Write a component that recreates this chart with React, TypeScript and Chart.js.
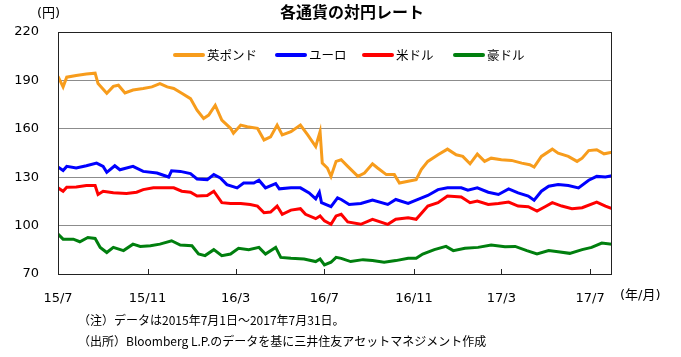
import React, { useEffect, useRef } from "react";
import { Chart, registerables } from "chart.js";

Chart.register(...registerables);

const chartTitle = "各通貨の対円レート";
const yUnit = "(円)";
const xUnit = "(年/月)";
const notes = [
  "（注）データは2015年7月1日～2017年7月31日。",
  "（出所）Bloomberg L.P.のデータを基に三井住友アセットマネジメント作成",
];

const seriesNames = ["英ポンド", "ユーロ", "米ドル", "豪ドル"];
const seriesColors = ["#f79c1c", "#0000ff", "#ff0000", "#007f0e"];

// x axis: days since 2015-07-01
const xTickDays = [0, 123, 244, 366, 489, 609, 731];
const xTickLabels = ["15/7", "15/11", "16/3", "16/7", "16/11", "17/3", "17/7"];
const xMaxDay = 761;
const yMin = 70;
const yMax = 220;
const yStep = 30;

const gbpDays = [0, 7, 12, 25, 39, 51, 55, 67, 76, 83, 92, 103, 117, 129, 140, 150, 159, 170, 182, 191, 200, 207, 216, 225, 237, 241, 251, 260, 274, 283, 292, 301, 308, 320, 333, 343, 354, 360, 363, 370, 375, 382, 389, 398, 412, 421, 432, 439, 451, 462, 469, 481, 492, 499, 508, 522, 535, 547, 556, 566, 576, 586, 595, 609, 623, 637, 648, 654, 664, 679, 687, 701, 713, 720, 729, 740, 750, 761];
const gbpRates = [192.5, 186, 192, 193, 194, 194.5, 188, 182, 186.3, 187, 182.2, 184, 185, 186, 188, 186, 185, 182, 178.7, 171.5, 166.4, 168.5, 174.6, 165.4, 160.3, 157.2, 162.3, 161.3, 160.3, 153.1, 155, 162.3, 156.2, 158.2, 162.3, 156.2, 149, 158.2, 138.8, 135.7, 130.5, 139.8, 140.8, 136.7, 130.5, 132.6, 138.3, 135.7, 131.6, 131.6, 126.4, 127.5, 128.5, 134.7, 139.8, 143.9, 147.4, 143.9, 142.9, 138.3, 144.3, 139.8, 141.8, 140.8, 140.4, 138.7, 137.7, 136.3, 142.9, 147.4, 144.9, 142.9, 139.8, 141.8, 146.5, 147, 144.5, 145.5];

const eurDays = [0, 7, 12, 25, 39, 53, 62, 67, 78, 85, 103, 117, 136, 152, 156, 168, 182, 191, 205, 214, 223, 232, 246, 255, 269, 276, 285, 299, 304, 320, 333, 345, 354, 359, 362, 375, 384, 389, 400, 416, 432, 453, 464, 481, 492, 508, 522, 535, 554, 563, 576, 591, 605, 619, 632, 646, 654, 664, 674, 687, 701, 715, 729, 740, 752, 761];
const eurRates = [136.3, 134.2, 136.7, 135.7, 137.1, 138.7, 136.7, 133, 137.1, 134.6, 136.7, 133.6, 132.6, 130.1, 134, 133.6, 132.2, 128.9, 128.5, 131.6, 129.5, 125.4, 123.4, 126.4, 126.4, 128.1, 123.4, 126, 122.8, 123.4, 123.4, 120.3, 116.6, 120.7, 114.2, 111.7, 117.2, 116.2, 113.1, 113.7, 115.8, 113.1, 116.2, 113.7, 115.8, 118.7, 122.3, 123.4, 123.4, 121.9, 123.4, 120.7, 119.3, 122.8, 120.3, 118.3, 115.8, 121.3, 124.4, 125.4, 124.8, 123.4, 128.1, 130.5, 130.1, 130.9];

const usdDays = [0, 7, 12, 25, 39, 51, 55, 62, 76, 94, 108, 117, 131, 150, 159, 170, 182, 191, 205, 214, 225, 237, 251, 264, 274, 283, 292, 301, 308, 320, 333, 340, 354, 360, 366, 375, 382, 389, 398, 416, 432, 453, 464, 481, 492, 508, 522, 535, 554, 566, 576, 591, 605, 619, 632, 646, 658, 669, 679, 692, 706, 720, 740, 752, 761];
const usdRates = [123.4, 121.3, 123.8, 124, 124.8, 124.8, 119.3, 121.3, 120.3, 119.9, 120.7, 122.3, 123.4, 123.4, 123.4, 121.3, 120.7, 118.3, 118.7, 121.3, 114.2, 113.7, 113.7, 113.1, 112.1, 108, 108.4, 112.1, 107, 109.6, 110.5, 107, 104.3, 106, 102.9, 100.8, 106, 107, 102.3, 100.8, 103.9, 100.8, 103.9, 104.9, 103.9, 112.1, 114.2, 118.3, 117.8, 114.2, 115.2, 113.1, 113.7, 114.6, 112.1, 111.7, 109, 111.7, 114.2, 112.1, 110.5, 111.1, 114.6, 112.1, 110.5];

const audDays = [0, 7, 21, 30, 41, 51, 58, 67, 76, 90, 103, 113, 127, 140, 156, 168, 184, 193, 202, 214, 225, 237, 248, 262, 276, 285, 299, 306, 320, 338, 354, 360, 366, 375, 382, 389, 402, 419, 432, 448, 464, 481, 492, 501, 517, 533, 543, 559, 577, 595, 614, 628, 644, 658, 674, 687, 703, 720, 733, 747, 761];
const audRates = [94.7, 91.6, 91.6, 90, 92.6, 92, 86.5, 83.3, 86.5, 84.5, 88.5, 87.1, 87.5, 88.5, 90.6, 87.9, 87.5, 82.4, 81.4, 85.1, 81.4, 82.4, 85.9, 85.1, 86.5, 82.4, 86.5, 80.3, 79.7, 79.3, 77.7, 79.3, 75.6, 77.3, 80.3, 79.7, 77.7, 78.9, 78.3, 77.3, 78.3, 79.7, 79.7, 82.4, 85.1, 87.1, 84.5, 85.9, 86.5, 87.9, 86.9, 87.1, 84.5, 82.4, 84.5, 83.8, 82.8, 85.1, 86.5, 89.2, 88.5];

const seriesDays = [gbpDays, eurDays, usdDays, audDays];
const seriesRates = [gbpRates, eurRates, usdRates, audRates];

const JP = '"Noto Sans CJK JP", "Noto Sans", sans-serif';
const NUM = '"DejaVu Sans", "Noto Sans CJK JP", sans-serif';

const overlayPlugin = {
  id: "overlay",
  afterDraw(chart: any) {
    const { ctx, chartArea } = chart;
    const { left, right, top, bottom } = chartArea;
    const xs = chart.scales.x;
    ctx.save();

    // frame
    ctx.strokeStyle = "#222";
    ctx.lineWidth = 1;
    ctx.strokeRect(left + 0.5, top + 0.5, right - left - 1, bottom - top);

    // inward tick marks on x axis
    ctx.beginPath();
    xTickDays.forEach((d) => {
      const px = Math.round(xs.getPixelForValue(d)) + 0.5;
      ctx.moveTo(px, bottom);
      ctx.lineTo(px, bottom - 5);
    });
    ctx.stroke();

    // title
    ctx.fillStyle = "#000";
    ctx.font = `bold 16px ${JP}`;
    ctx.textAlign = "center";
    ctx.textBaseline = "middle";
    ctx.fillText(chartTitle, 352, 12);

    // units
    ctx.font = `13px ${NUM}`;
    ctx.textAlign = "left";
    ctx.fillText(yUnit, 37, 14);
    ctx.fillText(xUnit, 620, 296);

    // legend
    const legendStarts = [173, 275, 362, 453];
    ctx.font = `12.5px ${JP}`;
    seriesNames.forEach((name, i) => {
      const x0 = legendStarts[i];
      ctx.strokeStyle = seriesColors[i];
      ctx.lineWidth = 4;
      ctx.lineCap = "round";
      ctx.beginPath();
      ctx.moveTo(x0 + 2, 55);
      ctx.lineTo(x0 + 30, 55);
      ctx.stroke();
      ctx.fillStyle = "#000";
      ctx.textAlign = "left";
      ctx.fillText(name, x0 + 34, 55);
    });

    // footnotes
    ctx.font = `12px ${JP}`;
    ctx.fillStyle = "#000";
    ctx.textAlign = "left";
    ctx.fillText(notes[0], 78, 320, 358);
    ctx.fillText(notes[1], 78, 341, 410);

    ctx.restore();
  },
};

export default function App() {
  const canvasRef = useRef<HTMLCanvasElement | null>(null);

  useEffect(() => {
    const canvas = canvasRef.current;
    if (!canvas) return;
    const datasets = seriesNames.map((name, i) => ({
      label: name,
      data: seriesDays[i].map((d, j) => ({ x: d, y: seriesRates[i][j] })),
      borderColor: seriesColors[i],
      backgroundColor: seriesColors[i],
      borderWidth: 3,
      pointRadius: 0,
      tension: 0,
      fill: false,
    }));

    const chart = new Chart(canvas, {
      type: "line",
      data: { datasets },
      options: {
        responsive: false,
        maintainAspectRatio: false,
        devicePixelRatio: 1,
        animation: false,
        layout: { padding: { left: 8, top: 32, right: 69, bottom: 0 } },
        plugins: {
          legend: { display: false },
          tooltip: { enabled: false },
          title: { display: false },
        },
        scales: {
          x: {
            type: "linear",
            min: 0,
            max: xMaxDay,
            grid: { display: false },
            border: { display: false },
            afterBuildTicks: (scale: any) => {
              scale.ticks = xTickDays.map((v) => ({ value: v }));
            },
            afterFit: (scale: any) => {
              scale.height = 83;
            },
            ticks: {
              autoSkip: false,
              maxRotation: 0,
              padding: 9,
              color: "#000",
              font: { family: NUM, size: 13 },
              callback: (value: any) => {
                const idx = xTickDays.indexOf(Number(value));
                return idx >= 0 ? xTickLabels[idx] : "";
              },
            },
          },
          y: {
            type: "linear",
            min: yMin,
            max: yMax,
            grid: { color: "#8c8c8c", lineWidth: 1, drawTicks: false },
            border: { display: false },
            afterFit: (scale: any) => {
              scale.width = 50;
            },
            ticks: {
              stepSize: yStep,
              padding: 19,
              color: "#000",
              font: { family: NUM, size: 13 },
            },
          },
        },
      },
      plugins: [overlayPlugin],
    });

    return () => {
      chart.destroy();
    };
  }, []);

  return (
    <div
      style={{
        position: "fixed",
        left: 0,
        top: 0,
        width: 681,
        height: 357,
        background: "#fff",
      }}
    >
      <canvas ref={canvasRef} width={681} height={357} style={{ display: "block" }} />
    </div>
  );
}
